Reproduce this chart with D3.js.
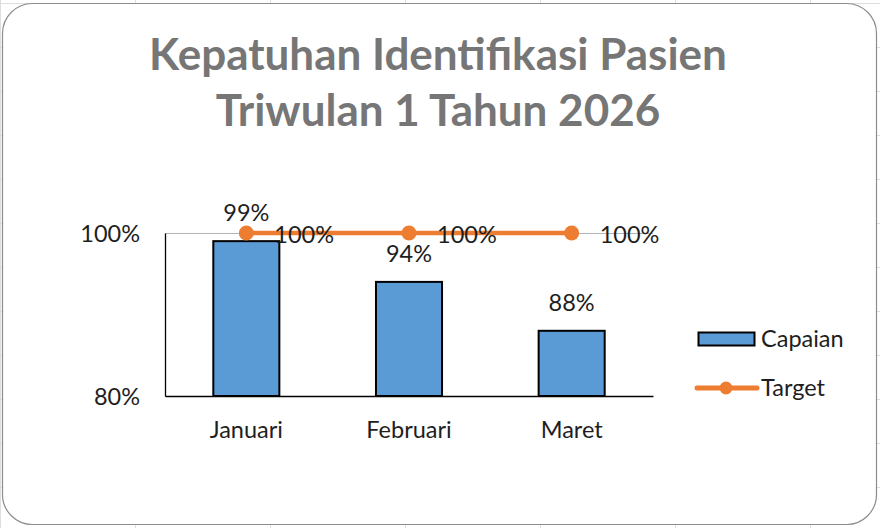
<!DOCTYPE html>
<html>
<head>
<meta charset="utf-8">
<script src="https://cdn.jsdelivr.net/npm/d3@7"></script>
<style>
  html, body { margin: 0; padding: 0; background: #fff; }
  svg { display: block; font-family: Lato, "Open Sans", sans-serif; }
</style>
</head>
<body>
<svg id="chart" width="880" height="528"></svg>
<script>
"use strict";

// data
var titleLines = ["Kepatuhan Identifikasi Pasien", "Triwulan 1 Tahun 2026"];
var months = ["Januari", "Februari", "Maret"];
var capaian = [0.99, 0.94, 0.88];
var target = [1.00, 1.00, 1.00];
var yTicks = [0.80, 1.00];
var seriesNames = ["Capaian", "Target"];

var blue = "#5B9BD5",
    orange = "#ED7D31",
    textColor = "#1e1e1e",
    fontSize = 23.5;

var svg = d3.select("#chart");

// faint sheet grid behind the chart
var sheet = svg.append("g").attr("stroke", "#dedede").attr("stroke-width", 1);
d3.range(0, 880, 135).forEach(function(x){
  sheet.append("line").attr("x1", x + 0.5).attr("x2", x + 0.5).attr("y1", 0).attr("y2", 528);
});
d3.range(3, 528, 44).forEach(function(y){
  sheet.append("line").attr("x1", 0).attr("x2", 880).attr("y1", y + 0.5).attr("y2", y + 0.5);
});

// chart area
svg.append("rect")
  .attr("x", 2.5).attr("y", 3.5)
  .attr("width", 874).attr("height", 521)
  .attr("rx", 30).attr("ry", 30)
  .attr("fill", "#fff")
  .attr("stroke", "#8c8c8c")
  .attr("stroke-width", 1.2);

// title
svg.append("g")
  .selectAll("text")
  .data(titleLines)
  .enter()
  .append("text")
  .attr("x", 438)
  .attr("y", function(d, i){ return 70 + i * 56; })
  .attr("text-anchor", "middle")
  .attr("fill", "#767676")
  .attr("font-weight", "bold")
  .attr("font-size", 44)
  .text(function(d){ return d; });

// plot
var plot = { left: 165, right: 653, top: 233, bottom: 396 };

var x = d3.scaleBand()
  .domain(months)
  .range([plot.left, plot.right])
  .paddingInner(0.594)
  .paddingOuter(0.297);

var y = d3.scaleLinear()
  .domain([yTicks[0], yTicks[yTicks.length - 1]])
  .range([plot.bottom, plot.top]);

var pct = d3.format(".0%");

// top gridline
svg.append("g")
  .selectAll("line")
  .data(yTicks.slice(1))
  .enter()
  .append("line")
  .attr("x1", plot.left).attr("x2", plot.right)
  .attr("y1", function(d){ return y(d) + 0.5; })
  .attr("y2", function(d){ return y(d) + 0.5; })
  .attr("stroke", "#b4b4b4")
  .attr("stroke-width", 1);

// y axis
var yAxis = svg.append("g")
  .attr("transform", "translate(" + plot.left + ",0)")
  .call(d3.axisLeft(y).tickValues(yTicks).tickFormat(pct).tickSize(0).tickPadding(25));
yAxis.select(".domain").attr("stroke", "#000").attr("stroke-width", 1.3);
yAxis.selectAll("text")
  .attr("font-family", "Lato, 'Open Sans', sans-serif")
  .attr("font-size", fontSize)
  .attr("fill", textColor)
  .attr("dy", "0.35em");

// x axis
var xAxis = svg.append("g")
  .attr("transform", "translate(0," + plot.bottom + ")")
  .call(d3.axisBottom(x).tickSize(0).tickPadding(25));
xAxis.select(".domain").attr("stroke", "#000").attr("stroke-width", 1.5);
xAxis.selectAll("text")
  .attr("font-family", "Lato, 'Open Sans', sans-serif")
  .attr("font-size", fontSize)
  .attr("fill", textColor);

// bars
svg.append("g")
  .selectAll("rect")
  .data(capaian)
  .enter()
  .append("rect")
  .attr("x", function(d, i){ return x(months[i]); })
  .attr("y", function(d){ return y(d); })
  .attr("width", x.bandwidth())
  .attr("height", function(d){ return y(yTicks[0]) - y(d); })
  .attr("fill", blue)
  .attr("stroke", "#000")
  .attr("stroke-width", 2);

// bar labels
svg.append("g")
  .selectAll("text")
  .data(capaian)
  .enter()
  .append("text")
  .attr("x", function(d, i){ return x(months[i]) + x.bandwidth() / 2; })
  .attr("y", function(d){ return y(d) - 20; })
  .attr("text-anchor", "middle")
  .attr("font-size", fontSize)
  .attr("fill", textColor)
  .text(function(d){ return pct(d); });

// target line
var cx = function(d, i){ return x(months[i]) + x.bandwidth() / 2; };

svg.append("path")
  .datum(target)
  .attr("d", d3.line().x(cx).y(function(d){ return y(d); }))
  .attr("fill", "none")
  .attr("stroke", orange)
  .attr("stroke-width", 4.5);

svg.append("g")
  .selectAll("circle")
  .data(target)
  .enter()
  .append("circle")
  .attr("cx", cx)
  .attr("cy", function(d){ return y(d); })
  .attr("r", 7.5)
  .attr("fill", orange);

svg.append("g")
  .selectAll("text")
  .data(target)
  .enter()
  .append("text")
  .attr("x", function(d, i){ return cx(d, i) + 28; })
  .attr("y", function(d){ return y(d) + 10; })
  .attr("font-size", fontSize)
  .attr("fill", textColor)
  .text(function(d){ return pct(d); });

// legend
var legend = svg.append("g");
legend.append("rect")
  .attr("x", 698.5).attr("y", 332.5)
  .attr("width", 56).attr("height", 13)
  .attr("fill", blue)
  .attr("stroke", "#000")
  .attr("stroke-width", 2);
legend.append("line")
  .attr("x1", 697).attr("x2", 757)
  .attr("y1", 388).attr("y2", 388)
  .attr("stroke", orange)
  .attr("stroke-width", 5)
  .attr("stroke-linecap", "round");
legend.append("circle")
  .attr("cx", 726).attr("cy", 388).attr("r", 6.5)
  .attr("fill", orange);
legend.selectAll("text")
  .data(seriesNames)
  .enter()
  .append("text")
  .attr("x", 761)
  .attr("y", function(d, i){ return 347 + i * 49; })
  .attr("font-size", fontSize)
  .attr("fill", textColor)
  .text(function(d){ return d; });
</script>
</body>
</html>
